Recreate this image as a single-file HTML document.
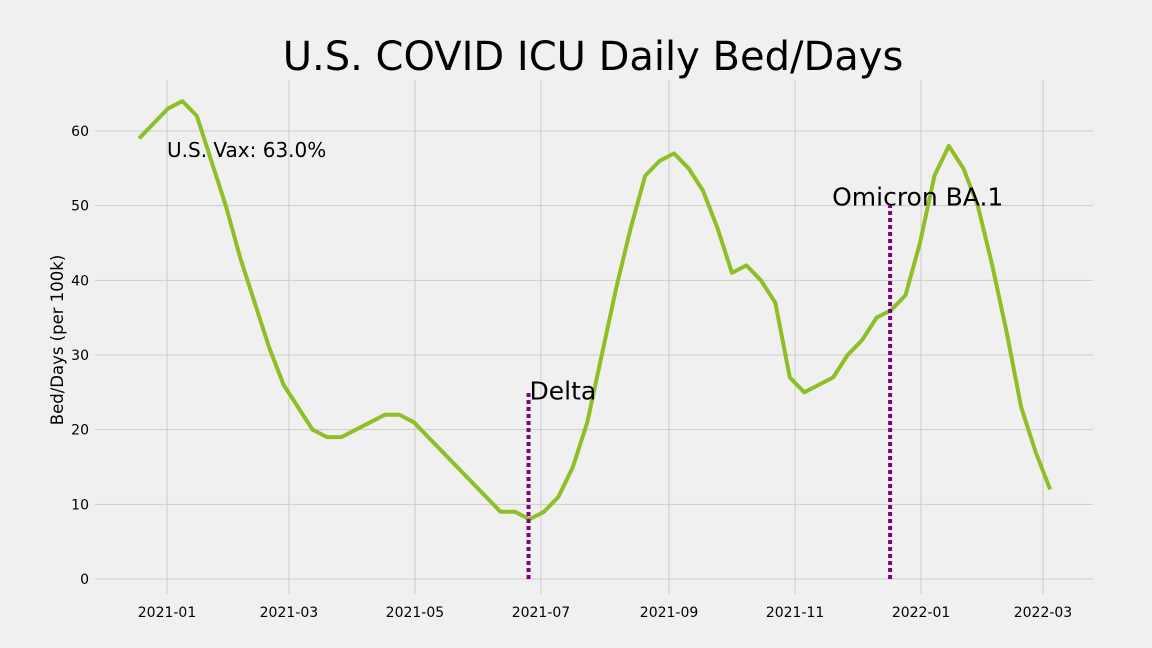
<!DOCTYPE html>
<html><head><meta charset="utf-8"><style>
html,body{margin:0;background:#f0f0f0;overflow:hidden;width:1152px;height:648px}
svg{display:block}
svg text{font-family:"DejaVu Sans","Liberation Sans",sans-serif}
</style></head><body>
<svg id="chart" width="1152" height="648" xmlns="http://www.w3.org/2000/svg">
<rect width="1152" height="648" fill="#f0f0f0"/>
<text x="593" y="70" font-size="40" text-anchor="middle" fill="#000">U.S. COVID ICU Daily Bed/Days</text>
<text transform="translate(63,340) rotate(-90)" font-size="16.5" text-anchor="middle">Bed/Days (per 100k)</text>
<g id="grid"></g><g id="ticks"></g><g id="marks"></g><g id="notes"></g>
</svg>
<script>
const startDate = "2020-12-18";
const stepDays = 7;
const values = [59,61,63,64,62,56,50,43,37,31,26,23,20,19,19,20,21,22,22,21,19,17,15,13,11,9,9,8,9,11,15,21,30,39,47,54,56,57,55,52,47,41,42,40,37,27,25,26,27,30,32,35,36,38,45,54,58,55,50,42,33,23,17,12];
const xTickLabels = ["2021-01","2021-03","2021-05","2021-07","2021-09","2021-11","2022-01","2022-03"];
const yTicks = [0,10,20,30,40,50,60];
const eventNames = ["Delta","Omicron BA.1"];
const eventDates = ["2021-06-25","2021-12-17"];
const eventHeights = [25,50];
const vaxLabel = "U.S. Vax: 63.0%";

const NS="http://www.w3.org/2000/svg";
const day=d=>Date.parse(d+"T00:00:00Z")/864e5;
const d0=day("2021-01-01");
const X=d=>167+(day(d)-d0)*2.066;
const Y=v=>579-v*7.467;
function el(t,a,p){const e=document.createElementNS(NS,t);for(const k in a)e.setAttribute(k,a[k]);document.getElementById(p).appendChild(e);return e;}
const grid="grid",ticks="ticks";
yTicks.forEach(v=>{
  const l=el("line",{x1:95,x2:1093,y1:Y(v),y2:Y(v),stroke:"#cbcbcb","stroke-width":1},grid);
  
  
  const t=el("text",{x:89,y:Y(v)+5,"font-size":14,"text-anchor":"end"},ticks);t.textContent=v;
  
  
});
xTickLabels.forEach(s=>{
  const x=X(s+"-01");
  const l=el("line",{x1:x,x2:x,y1:80,y2:594,stroke:"#cbcbcb","stroke-width":1},grid);
  
  
  const t=el("text",{x:x,y:617,"font-size":14,"text-anchor":"middle"},ticks);t.textContent=s;
  
  
});
const s0=day(startDate)+0.45;
const pts=values.map((v,i)=>{const dd=s0+i*stepDays;return [167+(dd-d0)*2.066,Y(v)];});
const line=el("polyline",{points:pts.map(p=>p.join(",")).join(" "),fill:"none",stroke:"#8fbf26","stroke-width":4,"stroke-linejoin":"round"},"marks");


const labelDx=[1,-58];
eventNames.forEach((n,i)=>{
  const x=X(eventDates[i]);
  const l=el("line",{x1:x,x2:x,y1:Y(0),y2:Y(eventHeights[i]),stroke:"#800080","stroke-width":4,"stroke-dasharray":"4,3"},"notes");
  
  
  const t=el("text",{x:x+labelDx[i],y:Y(eventHeights[i])+(i?0:7),"font-size":25},"notes");t.textContent=n;
  
  
});
const vt=el("text",{x:167,y:157,"font-size":20},"notes");vt.textContent=vaxLabel;


</script>
</body></html>
